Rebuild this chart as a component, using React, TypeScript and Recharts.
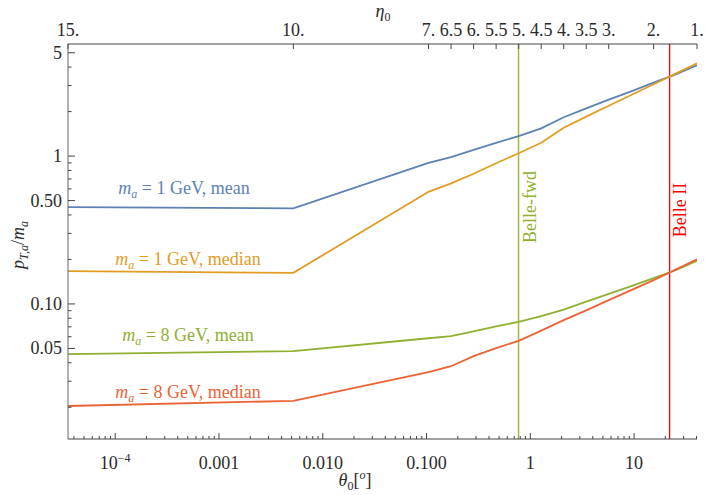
import React from "react";
import { LineChart, Line, XAxis, YAxis, ReferenceLine } from "recharts";

// sample points are at these pseudorapidities (eta0), plotted against theta0 in degrees
const etaPoints = [15, 10, 7, 6.5, 6, 5.5, 5, 4.5, 4, 3.5, 3, 2.5, 2, 1.5, 1];
const mean1GeV = [0.452, 0.443, 0.901, 0.985, 1.1, 1.23, 1.365, 1.54, 1.83, 2.1, 2.41, 2.74, 3.14, 3.57, 4.11];
const median1GeV = [0.1667, 0.1623, 0.5735, 0.653, 0.76, 0.894, 1.045, 1.23, 1.554, 1.85, 2.19, 2.59, 3.06, 3.61, 4.25];
const mean8GeV = [0.0457, 0.048, 0.0586, 0.0605, 0.0653, 0.0704, 0.0757, 0.0827, 0.0915, 0.1035, 0.117, 0.132, 0.1494, 0.169, 0.196];
const median8GeV = [0.0204, 0.0221, 0.0346, 0.0379, 0.0443, 0.0502, 0.0563, 0.066, 0.0777, 0.0905, 0.106, 0.124, 0.145, 0.1705, 0.2];

const etaTicks = [15, 10, 7, 6.5, 6, 5.5, 5, 4.5, 4, 3.5, 3, 2, 1];
const etaTickLabels = ["15.", "10.", "7.", "6.5", "6.", "5.5", "5.", "4.5", "4.", "3.5", "3.", "2.", "1."];
const thetaMajor = [1e-4, 0.001, 0.01, 0.1, 1, 10];
const thetaMajorLabels = ["10^-4", "0.001", "0.010", "0.100", "1", "10"];
const yMajor = [0.05, 0.1, 0.5, 1, 5];
const yMajorLabels = ["0.05", "0.10", "0.50", "1", "5"];

const belleFwd = 0.77;
const belleII = 22;

const W = 707;
const H = 495;
const FONT = "'Liberation Serif', serif";
const AXIS = "#444";
const TEXT = "#2a2a2a";
const BLUE = "#5E81B5";
const ORANGE = "#E19C24";
const GREEN = "#8FB032";
const RED = "#EB6235";

const thetaOf = (eta: number) => (2 * Math.atan(Math.exp(-eta)) * 180) / Math.PI;

const data = etaPoints.map((eta, i) => ({
  theta: thetaOf(eta),
  mean1: mean1GeV[i],
  median1: median1GeV[i],
  mean8: mean8GeV[i],
  median8: median8GeV[i],
}));

const xDomain = [thetaOf(15), thetaOf(1)];
const yDomain = [0.0122, 5.73];

const findIdx = (list: number[], v: number) => list.findIndex((m) => Math.abs(m - v) / m < 1e-6);

function minorTicks(lo: number, hi: number, major: number[]) {
  const out: number[] = [];
  for (let e = -6; e <= 2; e++) {
    for (let m = 2; m <= 9; m++) {
      const v = m * Math.pow(10, e);
      if (v >= lo && v <= hi && findIdx(major, v) < 0) out.push(v);
    }
  }
  return out;
}

const bottomTicks = [...thetaMajor, ...minorTicks(xDomain[0], xDomain[1], thetaMajor)].sort((a, b) => a - b);
const leftTicks = [...yMajor, ...minorTicks(yDomain[0], yDomain[1], yMajor)].sort((a, b) => a - b);
const topTicks = etaTicks.map(thetaOf);

const BottomTick = (p: any) => {
  const i = findIdx(thetaMajor, p.payload.value);
  const major = i >= 0;
  return (
    <g>
      <line x1={p.x} x2={p.x} y1={p.y} y2={p.y - (major ? 6 : 3)} stroke={AXIS} />
      {major && (
        <text x={p.x} y={p.y + 30} textAnchor="middle" fontSize={18} fontFamily={FONT} fill={TEXT}>
          {thetaMajorLabels[i] === "10^-4" ? (
            <>
              10<tspan dy={-7} fontSize={12}>−4</tspan>
            </>
          ) : (
            thetaMajorLabels[i]
          )}
        </text>
      )}
    </g>
  );
};

const TopTick = (p: any) => {
  const i = findIdx(topTicks, p.payload.value);
  return (
    <g>
      <line x1={p.x} x2={p.x} y1={p.y} y2={p.y + 5} stroke={AXIS} />
      <text x={p.x} y={p.y - 8} textAnchor="middle" fontSize={18} fontFamily={FONT} fill={TEXT}>
        {etaTickLabels[i]}
      </text>
    </g>
  );
};

const LeftTick = (p: any) => {
  const i = findIdx(yMajor, p.payload.value);
  const major = i >= 0;
  return (
    <g>
      <line x1={p.x} x2={p.x + (major ? 7 : 3.5)} y1={p.y} y2={p.y} stroke={AXIS} />
      {major && (
        <text x={p.x - 6} y={p.y + 6} textAnchor="end" fontSize={18} fontFamily={FONT} fill={TEXT}>
          {yMajorLabels[i]}
        </text>
      )}
    </g>
  );
};

const VerticalLabel = ({ viewBox, text, color, dx, cy }: any) => (
  <text
    transform={`translate(${viewBox.x + dx}, ${cy}) rotate(-90)`}
    textAnchor="middle"
    fontSize={18}
    fontFamily={FONT}
    fill={color}
  >
    {text}
  </text>
);

const SeriesLabel = ({ x, y, color, mass, stat }: any) => (
  <text x={x} y={y} textAnchor="middle" fontSize={18} fontFamily={FONT} fill={color}>
    <tspan fontStyle="italic">m</tspan>
    <tspan dy={4} fontSize={12} fontStyle="italic">a</tspan>
    <tspan dy={-4}>{` = ${mass} GeV, ${stat}`}</tspan>
  </text>
);

export default function App() {
  return (
    <div style={{ position: "relative", width: W, height: H, background: "#fff", fontFamily: FONT }}>
      <style>{"body{margin:0}"}</style>
      <LineChart width={W} height={H} data={data} margin={{ top: 14, right: 10, bottom: 26, left: 8 }}>
        <XAxis
          xAxisId="bottom"
          dataKey="theta"
          type="number"
          scale="log"
          domain={xDomain}
          allowDataOverflow
          ticks={bottomTicks}
          interval={0}
          tickSize={0}
          tickMargin={0}
          tickLine={false}
          height={30}
          axisLine={{ stroke: AXIS }}
          tick={(p: any) => <BottomTick {...p} />}
        />
        <XAxis
          xAxisId="top"
          orientation="top"
          dataKey="theta"
          type="number"
          scale="log"
          domain={xDomain}
          allowDataOverflow
          ticks={topTicks}
          interval={0}
          tickSize={0}
          tickMargin={0}
          tickLine={false}
          height={30}
          axisLine={{ stroke: AXIS }}
          tick={(p: any) => <TopTick {...p} />}
        />
        <YAxis
          type="number"
          scale="log"
          domain={yDomain}
          allowDataOverflow
          ticks={leftTicks}
          interval={0}
          tickSize={0}
          tickMargin={0}
          tickLine={false}
          width={60}
          axisLine={{ stroke: "#666" }}
          tick={(p: any) => <LeftTick {...p} />}
        />
        <ReferenceLine
          xAxisId="bottom"
          x={belleFwd}
          stroke="#9DB84A"
          strokeWidth={1.5}
          label={(p: any) => <VerticalLabel {...p} text="Belle-fwd" color={GREEN} dx={17} cy={207} />}
        />
        <ReferenceLine
          xAxisId="bottom"
          x={belleII}
          stroke="#FF0000"
          strokeWidth={1.3}
          label={(p: any) => <VerticalLabel {...p} text="Belle II" color="#FF0000" dx={16} cy={210} />}
        />
        <Line xAxisId="bottom" dataKey="mean1" stroke={BLUE} strokeWidth={1.8} dot={false} isAnimationActive={false} />
        <Line xAxisId="bottom" dataKey="median1" stroke={ORANGE} strokeWidth={1.8} dot={false} isAnimationActive={false} />
        <Line xAxisId="bottom" dataKey="mean8" stroke={GREEN} strokeWidth={1.8} dot={false} isAnimationActive={false} />
        <Line xAxisId="bottom" dataKey="median8" stroke={RED} strokeWidth={1.8} dot={false} isAnimationActive={false} />
      </LineChart>
      <svg width={W} height={H} style={{ position: "absolute", left: 0, top: 0, pointerEvents: "none" }}>
        <SeriesLabel x={184} y={194} color={BLUE} mass={1} stat="mean" />
        <SeriesLabel x={188} y={265} color={ORANGE} mass={1} stat="median" />
        <SeriesLabel x={188} y={341} color={GREEN} mass={8} stat="mean" />
        <SeriesLabel x={188} y={398} color={RED} mass={8} stat="median" />
        <text x={383} y={17} textAnchor="middle" fontSize={18} fontFamily={FONT} fill={TEXT}>
          <tspan fontStyle="italic">η</tspan>
          <tspan dy={4} fontSize={12}>0</tspan>
        </text>
        <text x={355} y={486} textAnchor="middle" fontSize={18} fontFamily={FONT} fill={TEXT}>
          <tspan fontStyle="italic">θ</tspan>
          <tspan dy={4} fontSize={12}>0</tspan>
          <tspan dy={-4}>[</tspan>
          <tspan dy={-7} fontSize={12} fontStyle="italic">o</tspan>
          <tspan dy={7}>]</tspan>
        </text>
        <text transform="translate(24, 245) rotate(-90)" textAnchor="middle" fontSize={18} fontFamily={FONT} fill={TEXT}>
          <tspan fontStyle="italic">p</tspan>
          <tspan dy={4} fontSize={12} fontStyle="italic">T,a</tspan>
          <tspan dy={-4}>/</tspan>
          <tspan fontStyle="italic">m</tspan>
          <tspan dy={4} fontSize={12} fontStyle="italic">a</tspan>
        </text>
      </svg>
    </div>
  );
}
